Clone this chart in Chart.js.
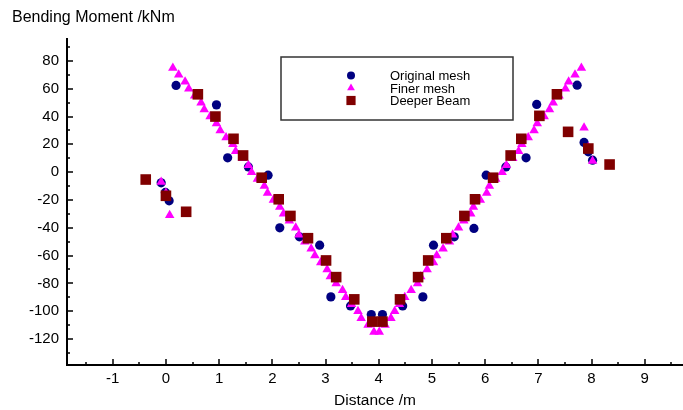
<!DOCTYPE html>
<html>
<head>
<meta charset="utf-8">
<script src="https://cdn.jsdelivr.net/npm/chart.js@4.4.1/dist/chart.umd.min.js"></script>
<style>
  html, body { margin: 0; padding: 0; background: #fff; }
  #wrap { width: 683px; height: 410px; }
</style>
</head>
<body>
<div id="wrap"><canvas id="bmChart"></canvas></div>
<script>
// ---- data ----
const xTicks = [-1, 0, 1, 2, 3, 4, 5, 6, 7, 8, 9];
const yTicks = [-120, -100, -80, -60, -40, -20, 0, 20, 40, 60, 80];

const seriesNames = ['Original mesh', 'Finer mesh', 'Deeper Beam'];

const origX = [-0.09, -0.01, 0.06, 0.19, 0.95, 1.16, 1.55, 1.92, 2.14, 2.51, 2.89, 3.10, 3.47, 3.86,
               4.07, 4.45, 4.83, 5.03, 5.42, 5.79, 6.02, 6.39, 6.77, 6.97, 7.73, 7.86, 7.94, 8.02];
const origY = [-7.7, -14.6, -20.6, 62.4, 48.4, 10.3, 3.8, -2.2, -40, -46.5, -52.5, -89.7, -96.2, -102.4,
               -102.4, -96.2, -89.7, -52.5, -46.5, -40.5, -2.2, 3.8, 10.3, 48.7, 62.6, 21.4, 14.6, 8.6];

const fineX = [-0.09, 0.00, 0.07,
  0.13, 0.24, 0.36, 0.43, 0.54, 0.66, 0.72, 0.83, 0.95, 1.02, 1.13, 1.26, 1.31, 1.44, 1.55, 1.61, 1.72,
  1.85, 1.91, 2.02, 2.14, 2.21, 2.32, 2.44, 2.50, 2.61, 2.73, 2.80, 2.91, 3.03, 3.09, 3.20, 3.32, 3.38,
  3.49, 3.61, 3.67, 3.80, 3.91,
  4.01, 4.12, 4.23, 4.30, 4.39, 4.49, 4.61, 4.73, 4.79, 4.91, 5.03, 5.09, 5.21, 5.33, 5.39, 5.50, 5.60,
  5.73, 5.78, 5.91, 6.03, 6.08, 6.20, 6.32, 6.40, 6.52, 6.63, 6.69, 6.81, 6.92, 6.98, 7.11, 7.21, 7.28,
  7.39, 7.51, 7.57, 7.69, 7.81,
  7.86, 7.94, 8.02];
const fineY = [-7, -15, -31,
  75, 70, 65, 60, 55, 50, 45, 40, 35, 30, 25, 20, 15, 10, 5, 0, -5,
  -10, -15, -20, -25, -30, -35, -40, -45, -50, -55, -60, -65, -70, -75, -80, -85, -90,
  -95, -100, -105, -110, -115,
  -115, -110, -105, -100, -95, -90, -85, -80, -75, -70, -65, -60, -55, -50, -45, -40, -35,
  -30, -25, -20, -15, -10, -5, 0, 5, 10, 15, 20, 25, 30, 35, 40, 45, 50,
  55, 60, 65, 70, 75,
  32, 18, 8];

const deepX = [-0.38, 0.00, 0.38, 0.60, 0.93, 1.27, 1.45, 1.80, 2.12, 2.34, 2.67, 3.01, 3.20, 3.54, 3.88,
               4.07, 4.40, 4.74, 4.93, 5.27, 5.61, 5.81, 6.15, 6.48, 6.68, 7.02, 7.35, 7.56, 7.94, 8.34];
const deepY = [-5.3, -17, -28.5, 56, 40, 24, 12, -4, -19.5, -31.5, -47.5, -63.5, -75.5, -91.5, -107.5,
               -107.5, -91.5, -75.5, -63.5, -47.5, -31.5, -19.5, -4, 12, 24, 40.5, 56, 29, 17, 5.5];

const toPts = (xs, ys) => xs.map((x, i) => ({ x: x, y: ys[i] }));

const FONT = 'Liberation Sans, Arial, sans-serif';

// inward ticks, axis lines and boxed legend
const axesAndLegend = {
    id: 'axesAndLegend',
    afterDraw(chart) {
        const ctx = chart.ctx;
        const xs = chart.scales.x, ys = chart.scales.y;
        const a = chart.chartArea;
        ctx.save();
        ctx.strokeStyle = '#000';
        ctx.lineWidth = 2;
        ctx.beginPath();
        ctx.moveTo(a.left, a.top);
        ctx.lineTo(a.left, a.bottom);
        ctx.lineTo(a.right, a.bottom);
        ctx.stroke();

        ctx.lineWidth = 1.5;
        ctx.beginPath();
        for (let v = Math.ceil(xs.min * 2) / 2; v <= xs.max; v += 0.5) {
            const px = Math.round(xs.getPixelForValue(v));
            const len = Number.isInteger(v) ? 6 : 3;
            ctx.moveTo(px, a.bottom);
            ctx.lineTo(px, a.bottom - len);
        }
        for (let v = Math.ceil(ys.min / 10) * 10; v <= ys.max; v += 10) {
            const py = Math.round(ys.getPixelForValue(v));
            const len = (v % 20 === 0) ? 6 : 3;
            ctx.moveTo(a.left, py);
            ctx.lineTo(a.left + len, py);
        }
        ctx.stroke();

        // legend box
        const bx = 281, by = 57, bw = 232, bh = 63;
        ctx.fillStyle = '#fff';
        ctx.fillRect(bx, by, bw, bh);
        ctx.strokeStyle = '#333';
        ctx.lineWidth = 1.5;
        ctx.strokeRect(bx, by, bw, bh);
        ctx.font = '13px ' + FONT;
        ctx.textBaseline = 'middle';
        ctx.textAlign = 'left';
        chart.data.datasets.forEach((ds, i) => {
            const cy = 75.5 + i * 12.5;
            ctx.fillStyle = ds.backgroundColor;
            ctx.strokeStyle = ds.backgroundColor;
            Chart.helpers.drawPoint(ctx, {
                pointStyle: ds.pointStyle, radius: ds.legendRadius, borderWidth: 0, rotation: 0
            }, 351, cy);
            ctx.fillStyle = '#000';
            ctx.fillText(ds.label, 390, cy + 1);
        });
        ctx.restore();
    }
};

new Chart(document.getElementById('bmChart').getContext('2d'), {
    type: 'scatter',
    data: {
        datasets: [
            {
                label: seriesNames[0], data: toPts(origX, origY),
                pointStyle: 'circle', pointRadius: 4.6, legendRadius: 4,
                backgroundColor: '#000080', borderColor: '#000080', borderWidth: 0, order: 3
            },
            {
                label: seriesNames[1], data: toPts(fineX, fineY),
                pointStyle: 'triangle', pointRadius: 5.5, legendRadius: 4.5,
                backgroundColor: '#ff00ff', borderColor: '#ff00ff', borderWidth: 0, order: 2
            },
            {
                label: seriesNames[2], data: toPts(deepX, deepY),
                pointStyle: 'rect', pointRadius: 7.5, legendRadius: 6.5,
                backgroundColor: '#800000', borderColor: '#800000', borderWidth: 0, order: 1
            }
        ]
    },
    options: {
        responsive: true,
        maintainAspectRatio: false,
        animation: false,
        events: [],
        layout: { padding: { left: 12, right: 0, top: 0, bottom: 0 }, autoPadding: false },
        plugins: {
            legend: { display: false },
            tooltip: { enabled: false },
            title: {
                display: true,
                text: 'Bending Moment /kNm',
                align: 'start',
                color: '#000',
                font: { family: FONT, size: 16, weight: 'normal' },
                padding: { top: 8, bottom: 10.8 }
            }
        },
        scales: {
            x: {
                type: 'linear',
                min: -1.86, max: 9.72,
                afterBuildTicks: s => { s.ticks = xTicks.map(v => ({ value: v })); },
                afterFit: s => { s.height = 45; },
                grid: { display: false, drawTicks: false },
                border: { display: false },
                ticks: { color: '#000', padding: 5, font: { family: FONT, size: 15 } },
                title: {
                    display: true, text: 'Distance /m', color: '#000',
                    font: { family: FONT, size: 15.5 }, padding: { top: 0, bottom: 0 }
                }
            },
            y: {
                type: 'linear',
                min: -138.7, max: 96.5,
                afterBuildTicks: s => { s.ticks = yTicks.map(v => ({ value: v })); },
                afterFit: s => { s.width = 55; },
                grid: { display: false, drawTicks: false },
                border: { display: false },
                ticks: { color: '#000', padding: 8, font: { family: FONT, size: 15 } }
            }
        }
    },
    plugins: [axesAndLegend]
});
</script>
</body>
</html>
